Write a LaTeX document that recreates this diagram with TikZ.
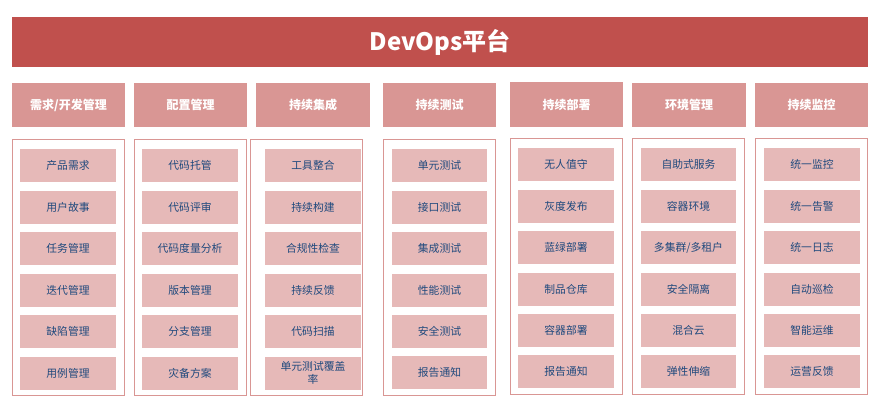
\documentclass[tikz,border=0pt]{standalone}
\usepackage{fontspec}
\setmainfont{Noto Sans CJK SC}
\definecolor{titlered}{HTML}{C0504D}
\definecolor{headred}{HTML}{D99694}
\definecolor{itemred}{HTML}{E6B9B8}
\definecolor{itemtext}{HTML}{1F497D}
\begin{document}
\begin{tikzpicture}[x=1pt,y=-1pt,
  titlebox/.style={fill=titlered,text=white,inner sep=0pt,outer sep=0pt,minimum width=856pt,minimum height=50pt,font=\fontsize{24}{28}\selectfont\bfseries},
  headbox/.style={fill=headred,text=white,inner sep=0pt,outer sep=0pt,minimum width=113pt,minimum height=44pt,font=\fontsize{12}{14}\selectfont\bfseries},
  colbox/.style={draw=headred,line width=1pt,inner sep=0pt,outer sep=0pt,minimum width=112pt,minimum height=256pt},
  itembox/.style={fill=itemred,text=itemtext,inner sep=0pt,outer sep=0pt,minimum width=96pt,minimum height=33pt,align=center,font=\fontsize{10.8}{13}\selectfont}]
\useasboundingbox (0,0) rectangle (886,401);
% title
\node[titlebox] (title) at (440,42) {DevOps平台};
% headers
\node[headbox] (h1) at (68.5,105) {需求/开发管理};
\node[headbox] (h2) at (190.5,105) {配置管理};
\node[headbox,minimum width=114pt] (h3) at (313,105) {持续集成};
\node[headbox] (h4) at (439.5,105) {持续测试};
\node[headbox,minimum height=45pt] (h5) at (566.5,104.5) {持续部署};
\node[headbox,minimum width=114pt] (h6) at (689,105) {环境管理};
\node[headbox] (h7) at (811.5,105) {持续监控};
% column frames
\node[colbox] (c1) at (68.5,267.25) {};
\node[colbox] (c2) at (190.5,267.25) {};
\node[colbox] (c3) at (306.5,267.5) {};
\node[colbox] (c4) at (439.5,267.5) {};
\node[colbox] (c5) at (566,266.5) {};
\node[colbox] (c6) at (688.5,266.5) {};
\node[colbox] (c7) at (811.5,266.5) {};
% column 1
\node[itembox] (a1) at (68,165.5) {产品需求};
\node[itembox] (a2) at (68,207) {用户故事};
\node[itembox] (a3) at (68,248.5) {任务管理};
\node[itembox] (a4) at (68,290) {迭代管理};
\node[itembox] (a5) at (68,331.5) {缺陷管理};
\node[itembox] (a6) at (68,373) {用例管理};
% column 2
\node[itembox] (b1) at (190,165.5) {代码托管};
\node[itembox] (b2) at (190,207) {代码评审};
\node[itembox] (b3) at (190,248.5) {代码度量分析};
\node[itembox] (b4) at (190,290) {版本管理};
\node[itembox] (b5) at (190,331.5) {分支管理};
\node[itembox] (b6) at (190,373) {灾备方案};
% column 3
\node[itembox] (d1) at (313,165.5) {工具整合};
\node[itembox] (d2) at (313,207) {持续构建};
\node[itembox] (d3) at (313,248.5) {合规性检查};
\node[itembox] (d4) at (313,290) {持续反馈};
\node[itembox] (d5) at (313,331.5) {代码扫描};
\node[itembox] (d6) at (313,373) {单元测试覆盖\\率};
% column 4
\node[itembox,minimum width=95pt] (e1) at (439.5,165.5) {单元测试};
\node[itembox,minimum width=95pt] (e2) at (439.5,207) {接口测试};
\node[itembox,minimum width=95pt] (e3) at (439.5,248.5) {集成测试};
\node[itembox,minimum width=95pt] (e4) at (439.5,290) {性能测试};
\node[itembox,minimum width=95pt] (e5) at (439.5,331.5) {安全测试};
\node[itembox,minimum width=95pt] (e6) at (439.5,372.5) {报告通知};
% column 5
\node[itembox] (f1) at (566,164.5) {无人值守};
\node[itembox] (f2) at (566,206) {灰度发布};
\node[itembox] (f3) at (566,247.5) {蓝绿部署};
\node[itembox] (f4) at (566,289) {制品仓库};
\node[itembox] (f5) at (566,330.5) {容器部署};
\node[itembox] (f6) at (566,371.5) {报告通知};
% column 6
\node[itembox,minimum width=95pt] (g1) at (688.5,164.5) {自助式服务};
\node[itembox,minimum width=95pt] (g2) at (688.5,206) {容器环境};
\node[itembox,minimum width=95pt] (g3) at (688.5,247.5) {多集群/多租户};
\node[itembox,minimum width=95pt] (g4) at (688.5,289) {安全隔离};
\node[itembox,minimum width=95pt] (g5) at (688.5,330.5) {混合云};
\node[itembox,minimum width=95pt] (g6) at (688.5,371.5) {弹性伸缩};
% column 7
\node[itembox] (k1) at (812,164.5) {统一监控};
\node[itembox] (k2) at (812,206) {统一告警};
\node[itembox] (k3) at (812,247.5) {统一日志};
\node[itembox] (k4) at (812,289) {自动巡检};
\node[itembox] (k5) at (812,330.5) {智能运维};
\node[itembox] (k6) at (812,371.5) {运营反馈};
\end{tikzpicture}
\end{document}
